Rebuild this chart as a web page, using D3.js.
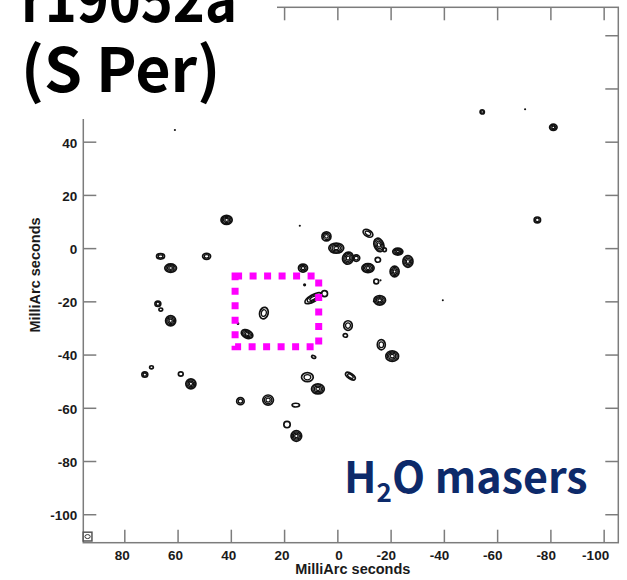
<!DOCTYPE html>
<html>
<head>
<meta charset="utf-8">
<script src="https://cdn.jsdelivr.net/npm/d3@7"></script>
<style>
  body { margin: 0; background: #fff; }
  svg { display: block; }
</style>
</head>
<body>
<svg id="chart" width="627" height="580"></svg>
<script>
// maser spots: offsets in mas (RA, Dec), contour extent in mas, tilt, number of contour levels
var maserRA     = [61.0, -54.4, -70.5, -81.1, -75.1, -39.6, 41.6, 14.1, 66.4, 49.1, 62.6, 4.1, 0.4, -4.0, -7.1, -11.5, 12.9, 12.3, 9.1, 4.8,
                   67.4, 66.3, 62.6, 27.6, 37.3, 33.9, -4.0, -3.0, 8.9, 72.3, 69.8, 58.8, 55.0, 11.25, 7.3, -4.9, -16.5, -20.6, 36.4, 26.0,
                   15.6, 18.9, 15.4, -11.5, -15.6, -17.7, -22.7, -26.5, -21.5, -15.2, -14.6, -16.2, -15.9, -13.7];
var maserDec    = [44.4, 51.2, 52.2, 45.4, 10.6, -19.6, 10.6, 8.4, -3.1, -3.1, -7.5, 4.4, 0.0, -3.75, -3.75, -7.5, -7.5, -13.8, -18.8, -17.1,
                   -20.9, -23.1, -27.3, -24.4, -28.4, -32.3, -29.1, -32.8, -40.9, -47.5, -44.8, -47.3, -51.0, -48.5, -52.9, -48.1, -36.3, -40.6, -57.5, -57.1,
                   -59.0, -66.3, -70.6, 5.6, 1.2, -0.6, -1.3, -5.0, -8.8, -4.4, -12.5, -12.1, -19.6, -20.0];
var maserMajor  = [0.4, 0.8, 0.4, 1.4, 1.2, 0.3, 2.1, 0.4, 1.5, 1.5, 2.2, 1.7, 2.8, 2.0, 1.3, 2.3, 1.7, 0.6, 3.5, 1.1,
                   1.1, 0.7, 1.9, 1.6, 0.5, 2.3, 1.6, 0.8, 0.8, 1.1, 0.7, 0.9, 1.9, 2.2, 2.4, 2.1, 1.5, 2.4, 1.4, 2.0,
                   1.4, 1.2, 2.0, 2.0, 1.8, 0.7, 1.9, 1.9, 1.7, 1.0, 0.9, 0.4, 2.2, 0.4];
var maserMinor  = [0.4, 0.8, 0.4, 1.2, 1.1, 0.3, 1.7, 0.4, 1.0, 1.1, 1.6, 1.7, 1.9, 2.3, 1.2, 1.7, 1.5, 0.6, 1.3, 1.1,
                   1.0, 0.6, 1.9, 2.2, 0.5, 1.5, 1.8, 0.7, 0.5, 1.0, 0.6, 0.8, 1.9, 1.7, 1.9, 1.0, 1.9, 2.0, 1.3, 1.9,
                   0.7, 1.2, 2.0, 1.2, 2.6, 0.7, 1.3, 2.2, 2.0, 0.9, 0.9, 0.4, 1.8, 0.4];
var maserTilt   = [0, 0, 0, 0, 0, 0, 0, 0, 0, 0, 0, 0, 0, 20, 0, 0, 0, 0, -30, 0,
                   0, 0, 0, 15, 0, 25, 0, 0, 20, 0, 0, 0, 0, 0, 0, 35, 0, 0, 0, 0,
                   0, 0, 0, 30, -20, 0, 0, 0, 0, 0, 0, 0, 0, 0];
var maserLevels = [1, 2, 1, 3, 2, 1, 4, 1, 2, 2, 4, 3, 4, 4, 2, 4, 3, 2, 3, 1,
                   2, 1, 4, 2, 1, 4, 2, 1, 1, 2, 1, 1, 4, 2, 4, 2, 2, 4, 2, 3,
                   1, 1, 4, 2, 4, 1, 4, 4, 4, 1, 1, 1, 4, 1];

var xTicks = [80, 60, 40, 20, 0, -20, -40, -60, -80, -100];
var yTicks = [80, 60, 40, 20, 0, -20, -40, -60, -80, -100];
var yLabelTicks = [40, 20, 0, -20, -40, -60, -80, -100];

// zoomed region and restoring beam
var boxRA = [38.4, 7.0];
var boxDec = [-10.5, -37.1];
var beam = {ra: 93.8, dec: -108.4, box: 3.3, major: 1.0, minor: 0.75};

var svg = d3.select("#chart");
var pl = 83.3, pr = 618.3, pt = 7.3, pb = 542.7;
var gray = "#7c7c7c";

var x = d3.scaleLinear().domain([95.4, -105.5]).range([pl, pr]);
var y = d3.scaleLinear().domain([-110.7, 90.5]).range([pb, pt]);
var kx = Math.abs(x(1) - x(0)), ky = Math.abs(y(1) - y(0));

var axisFont = "'Liberation Sans', Arial, Helvetica, sans-serif";
var fmt = function(d){ return String(d); };

// frame
svg.append("rect")
    .attr("x", pl).attr("y", pt)
    .attr("width", pr - pl).attr("height", pb - pt)
    .attr("fill", "none").attr("stroke", gray).attr("stroke-width", 1.5);

function styleAxis(g){
    g.select(".domain").remove();
    g.selectAll(".tick line").attr("stroke", gray).attr("stroke-width", 1.5);
    g.selectAll("text").attr("fill", "#1a1a1a").style("font-family", axisFont)
        .style("font-weight", "bold").style("font-size", "13.5px");
}

svg.append("g").attr("transform", "translate(0," + pb + ")")
    .call(d3.axisBottom(x).tickValues(xTicks).tickFormat(fmt).tickSize(-13).tickSizeOuter(0).tickPadding(8))
    .call(styleAxis)
    .call(function(g){ g.selectAll("text").attr("text-anchor", "end").attr("x", 5); });
svg.append("g").attr("transform", "translate(0," + pt + ")")
    .call(d3.axisTop(x).tickValues(xTicks).tickSize(-13).tickSizeOuter(0).tickFormat(""))
    .call(styleAxis);
svg.append("g").attr("transform", "translate(" + pl + ",0)")
    .call(d3.axisLeft(y).tickValues(yTicks).tickSize(-13).tickSizeOuter(0).tickPadding(6)
        .tickFormat(function(d){ return yLabelTicks.indexOf(d) >= 0 ? String(d) : ""; }))
    .call(styleAxis)
    .call(function(g){ g.selectAll("text").attr("dy", "0.4em"); });
svg.append("g").attr("transform", "translate(" + pr + ",0)")
    .call(d3.axisRight(y).tickValues(yTicks).tickSize(-13).tickSizeOuter(0).tickFormat(""))
    .call(styleAxis);

// axis titles
svg.append("text")
    .attr("x", (pl + pr) / 2 + 2).attr("y", 574)
    .attr("text-anchor", "middle")
    .style("font-family", axisFont).style("font-weight", "bold").style("font-size", "14.5px")
    .attr("fill", "#1a1a1a")
    .text("MilliArc seconds");
svg.append("text")
    .attr("transform", "translate(40," + ((pt + pb) / 2) + ") rotate(-90)")
    .attr("text-anchor", "middle")
    .style("font-family", axisFont).style("font-weight", "bold").style("font-size", "14.5px")
    .attr("fill", "#1a1a1a")
    .text("MilliArc seconds");

// maser contours
var spots = maserRA.map(function(d, i){
    return {ra: d, dec: maserDec[i], a: maserMajor[i], b: maserMinor[i], tilt: maserTilt[i], lv: maserLevels[i]};
});
var fracs = {1: [1], 2: [1, 0.58], 3: [1, 0.7, 0.4], 4: [1, 0.78, 0.56, 0.32]};

var spotG = svg.append("g").attr("class", "masers");
spots.forEach(function(s){
    var g = spotG.append("g")
        .attr("transform", "translate(" + x(s.ra) + "," + y(s.dec) + ") rotate(" + s.tilt + ")");
    var rx = s.a * kx, ry = s.b * ky;
    if (rx < 1.7) {
        g.append("ellipse").attr("rx", Math.max(rx, 1)).attr("ry", Math.max(ry, 1))
            .attr("fill", "#111");
        return;
    }
    g.selectAll("ellipse").data(fracs[s.lv]).enter().append("ellipse")
        .attr("rx", function(f){ return rx * f; })
        .attr("ry", function(f){ return ry * f; })
        .attr("fill", "none")
        .attr("stroke", "#111")
        .attr("stroke-width", function(f, i){ return i === 0 ? 1.7 : 1.3; });
});

// beam
var bw = beam.box * kx;
svg.append("rect")
    .attr("x", x(beam.ra) - bw / 2).attr("y", y(beam.dec) - bw / 2)
    .attr("width", bw).attr("height", bw)
    .attr("fill", "#fff").attr("stroke", "#555").attr("stroke-width", 1.5);
svg.append("ellipse")
    .attr("cx", x(beam.ra)).attr("cy", y(beam.dec))
    .attr("rx", beam.major * kx).attr("ry", beam.minor * ky)
    .attr("fill", "none").attr("stroke", "#333").attr("stroke-width", 1);

// magenta zoom box
svg.append("rect")
    .attr("x", x(boxRA[0])).attr("y", y(boxDec[0]))
    .attr("width", x(boxRA[1]) - x(boxRA[0]))
    .attr("height", y(boxDec[1]) - y(boxDec[0]))
    .attr("fill", "none")
    .attr("stroke", "#ff00ff")
    .attr("stroke-width", 7)
    .attr("stroke-dasharray", "7 7.5");

// title block covers the top-left corner of the frame
svg.append("rect").attr("x", 0).attr("y", 0).attr("width", 277).attr("height", 119).attr("fill", "#fff");
var title = svg.append("text")
    .style("font-family", "'Noto Sans CJK JP', 'Noto Sans', sans-serif")
    .style("font-weight", "bold").style("font-size", "61px")
    .attr("fill", "#000");
title.append("tspan").attr("x", 21).attr("y", 22)
    .attr("textLength", 216).attr("lengthAdjust", "spacingAndGlyphs").text("r19052a");
title.append("tspan").attr("x", 21).attr("y", 92).text("(S Per)");

var label = svg.append("text")
    .attr("x", 344).attr("y", 493)
    .style("font-family", "'Noto Sans CJK JP', 'Noto Sans', sans-serif")
    .style("font-weight", "bold").style("font-size", "43px")
    .attr("fill", "#0d2a6a");
label.append("tspan").text("H");
label.append("tspan").attr("dy", 9).style("font-size", "26px").text("2");
label.append("tspan").attr("dy", -9).text("O masers");
</script>
</body>
</html>
